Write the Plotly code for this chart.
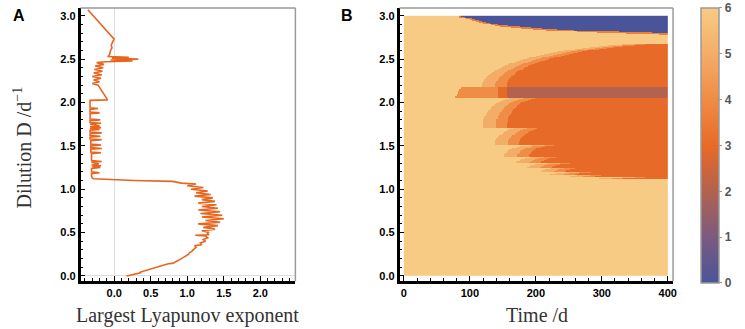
import numpy as np
import plotly.graph_objects as go

# ---------------- Panel A data: largest Lyapunov exponent vs dilution ----------------
lyap_D = [0.00, 0.02, 0.035, 0.045, 0.06, 0.075, 0.09, 0.11, 0.125, 0.14, 0.145, 0.16, 0.18, 0.20, 0.22,
          0.25, 0.27, 0.28, 0.30, 0.33, 0.35, 0.36, 0.38, 0.40, 0.42, 0.44, 0.46, 0.47, 0.475, 0.49,
          0.50, 0.52, 0.54, 0.56, 0.58, 0.60, 0.62, 0.64, 0.66, 0.68, 0.70, 0.72, 0.74, 0.76, 0.78,
          0.80, 0.82, 0.84, 0.86, 0.88, 0.90, 0.92, 0.94, 0.96, 0.98, 1.00, 1.02, 1.04, 1.06, 1.07,
          1.09, 1.10, 1.12, 1.13,
          1.15, 1.18, 1.19, 1.20, 1.24, 1.25, 1.26, 1.27, 1.28, 1.29, 1.31, 1.32, 1.33, 1.41, 1.42,
          1.43, 1.46, 1.47, 1.48, 1.50, 1.51, 1.52, 1.56, 1.57, 1.58, 1.60, 1.61, 1.62, 1.64, 1.65,
          1.66, 1.68, 1.69, 1.70, 1.71, 1.72, 1.73, 1.75, 1.76, 1.77, 1.79, 1.80, 1.81, 1.87, 1.88,
          1.89, 1.92, 1.93, 1.94, 2.01, 2.025, 2.03, 2.20,
          2.22, 2.24, 2.26, 2.28, 2.30, 2.32, 2.34, 2.36, 2.38, 2.40, 2.42, 2.44, 2.46, 2.47, 2.48,
          2.49, 2.50, 2.51, 2.52, 2.53, 2.56, 2.60, 2.63, 2.66, 2.70, 2.73, 3.07]
lyap_L = [0.17, 0.28, 0.36, 0.36, 0.42, 0.47, 0.53, 0.59, 0.66, 0.74, 0.80, 0.84, 0.88, 0.92, 0.96,
          1.02, 1.03, 1.06, 1.08, 1.12, 1.10, 1.20, 1.18, 1.25, 1.22, 1.28, 1.25, 1.11, 1.30, 1.27,
          1.30, 1.20, 1.38, 1.22, 1.42, 1.15, 1.45, 1.25, 1.50, 1.20, 1.48, 1.18, 1.45, 1.15, 1.42,
          1.20, 1.40, 1.15, 1.38, 1.20, 1.35, 1.10, 1.32, 1.12, 1.28, 1.05, 1.22, 1.00, 1.12, 0.92,
          0.80, 0.27, -0.28, -0.30,
          -0.31, -0.31, -0.20, -0.31, -0.31, -0.19, -0.30, -0.18, -0.31, -0.21, -0.31, -0.17, -0.31, -0.31, -0.18,
          -0.32, -0.32, -0.17, -0.32, -0.32, -0.18, -0.32, -0.32, -0.17, -0.33, -0.33, -0.19, -0.33, -0.33, -0.17,
          -0.33, -0.33, -0.20, -0.33, -0.18, -0.33, -0.20, -0.33, -0.18, -0.33, -0.33, -0.19, -0.33, -0.33, -0.20,
          -0.33, -0.33, -0.22, -0.33, -0.33, -0.33, -0.09, -0.22,
          -0.30, -0.20, -0.28, -0.18, -0.30, -0.17, -0.28, -0.16, -0.27, -0.15, -0.26, -0.14, -0.24, -0.12, 0.25,
          -0.05, 0.33, -0.03, 0.20, -0.08, -0.06, -0.05, -0.03, -0.04, -0.02, 0.00, -0.36]

# ---------------- Panel B data: regions ----------------
# blue (value 0) region lower boundary
blue_t = [84, 101, 121, 142, 200, 243, 300, 400]
blue_D = [3.00, 2.97, 2.93, 2.895, 2.86, 2.84, 2.82, 2.80]
# lobes: bottom D, top D, onset time of outer layer, time to reach full height
lobe_bottom = [2.18, 1.71, 1.505, 1.37, 1.295, 1.24, 1.195, 1.16, 1.135, 1.115]
lobe_top = [2.68, 2.05, 1.71, 1.505, 1.37, 1.295, 1.24, 1.195, 1.16, 1.135]
lobe_tip = [118, 119, 137, 152, 170, 186, 207, 222, 250, 290]
lobe_width = [280, 50, 45, 40, 35, 30, 28, 25, 30, 40]
layer_values = [5, 4, 3]
layer_delay = [0, 20, 37]
# horizontal band
band_D = [2.05, 2.18]
band_start_t = [77, 87]
band_switch_t = [142, 157]
band_values = [4, 3, 2]

# ---------------- build the grid ----------------
t_c = np.arange(1, 400, 2.0)
D_c = np.arange(0.005, 3.0, 0.01)
T, DD = np.meshgrid(t_c, D_c)
z = np.full(T.shape, 6.0)

for b, top, tip, w in zip(lobe_bottom, lobe_top, lobe_tip, lobe_width):
    for v, dl in zip(layer_values, layer_delay):
        t0 = tip + dl
        s = np.clip((T - t0) / w, 0, 1)
        h = b + (top - b) * np.sqrt(1 - (1 - s) ** 2)
        m = (T >= t0) & (DD >= b) & (DD < h)
        z[m] = np.minimum(z[m], v)

# band
frac = (DD - band_D[0]) / (band_D[1] - band_D[0])
tstart = band_start_t[0] + frac * (band_start_t[1] - band_start_t[0])
inband = (DD >= band_D[0]) & (DD < band_D[1]) & (T >= tstart)
bv = np.where(T < band_switch_t[0], band_values[0],
              np.where(T < band_switch_t[1], band_values[1], band_values[2]))
z[inband] = bv[inband]

# blue region with its thin orange edge
Db = np.interp(T, blue_t, blue_D, left=9, right=blue_D[-1])
z[(DD >= Db - 0.018) & (DD < Db)] = 3.6
z[DD >= Db] = 0

colorscale = [[0, '#4a5599'], [1 / 6, '#7b5a80'], [2 / 6, '#b3624e'], [0.5, '#e86a28'],
              [4 / 6, '#ef8c46'], [5 / 6, '#f4ad68'], [1, '#f8cb85']]

ORANGE = '#e8651f'
tickfont = dict(family='Liberation Sans', size=11, color='black', weight='bold')
serif = dict(family='Liberation Serif', size=20, color='#333333')

fig = go.Figure()
fig.add_trace(go.Scatter(x=lyap_L, y=lyap_D, mode='lines', line=dict(color=ORANGE, width=1.6),
                         xaxis='x', yaxis='y', showlegend=False, hoverinfo='skip'))
fig.add_trace(go.Heatmap(z=z, x=t_c, y=D_c, zmin=0, zmax=6, colorscale=colorscale, zsmooth=False,
                         xaxis='x2', yaxis='y2', hoverinfo='skip',
                         colorbar=dict(x=705 / 745, xanchor='left', y=1 - 8 / 329, yanchor='top',
                                       len=276 / 329, lenmode='fraction', thickness=18,
                                       xpad=0, ypad=0,
                                       outlinecolor='#9a9a9a', outlinewidth=1.5,
                                       tickvals=[0, 1, 2, 3, 4, 5, 6], ticks='outside', ticklen=3,
                                       tickcolor='#999999',
                                       tickfont=dict(family='Liberation Sans', size=12, color='#555555',
                                                     weight='bold'))))

ydom = [(329 - 282) / 329, (329 - 8) / 329]
common = dict(showgrid=False, ticks='inside', ticklen=5, tickwidth=1, tickcolor='black',
              showline=True, linecolor='black', linewidth=2.5, tickfont=tickfont,
              minor=dict(ticks='inside', ticklen=3, tickcolor='black'))

fig.update_layout(
    width=745, height=329, margin=dict(l=0, r=0, t=0, b=0),
    paper_bgcolor='white', plot_bgcolor='white',
    xaxis=dict(domain=[81 / 745, 297 / 745], range=[-0.46, 2.48], tickvals=[0, 0.5, 1, 1.5, 2],
               tickformat='.1f', minor_dtick=0.1, zeroline=True, zerolinecolor='#dddddd',
               zerolinewidth=1, anchor='y', **common),
    yaxis=dict(domain=ydom, range=[-0.06, 3.09], tickvals=[0, 0.5, 1, 1.5, 2, 2.5, 3],
               tickformat='.1f', minor_dtick=0.1, zeroline=True, zerolinecolor='#dddddd',
               zerolinewidth=1, anchor='x', **common),
    xaxis2=dict(domain=[401.7 / 745, 676.7 / 745], range=[-6.5, 408], tickvals=[0, 100, 200, 300, 400],
                minor_dtick=20, zeroline=False, anchor='y2', **common),
    yaxis2=dict(domain=ydom, range=[-0.06, 3.09], tickvals=[0, 0.5, 1, 1.5, 2, 2.5, 3],
                tickformat='.1f', minor_dtick=0.1, zeroline=False, anchor='x2', **common),
)

# grey top/right frame lines
for xr, yr in [('x domain', 'y domain'), ('x2 domain', 'y2 domain')]:
    fig.add_shape(type='line', xref=xr, yref=yr, x0=0, x1=1, y0=1, y1=1,
                  line=dict(color='#9a9a9a', width=1.5))
    fig.add_shape(type='line', xref=xr, yref=yr, x0=1, x1=1, y0=0, y1=1,
                  line=dict(color='#9a9a9a', width=1.5))

ann = [
    dict(text='A', x=19 / 745, y=1 - 16 / 329, font=dict(family='Liberation Sans', size=16, color='black',
                                                        weight='bold')),
    dict(text='B', x=349 / 745, y=1 - 16 / 329, font=dict(family='Liberation Sans', size=16, color='black',
                                                         weight='bold')),
    dict(text='Largest Lyapunov exponent', x=189 / 745, y=1 - 316 / 329, font=serif),
    dict(text='Time /d', x=540 / 745, y=1 - 316 / 329, font=serif),
    dict(text='Dilution D /d<sup>−1</sup>', x=22 / 745, y=1 - 148 / 329, font=serif, textangle=-90),
]
for a in ann:
    fig.add_annotation(xref='paper', yref='paper', showarrow=False, xanchor='center', yanchor='middle', **a)

fig.write_html('out.html', config={'displayModeBar': False},
               post_script="document.body.style.margin='0';")
